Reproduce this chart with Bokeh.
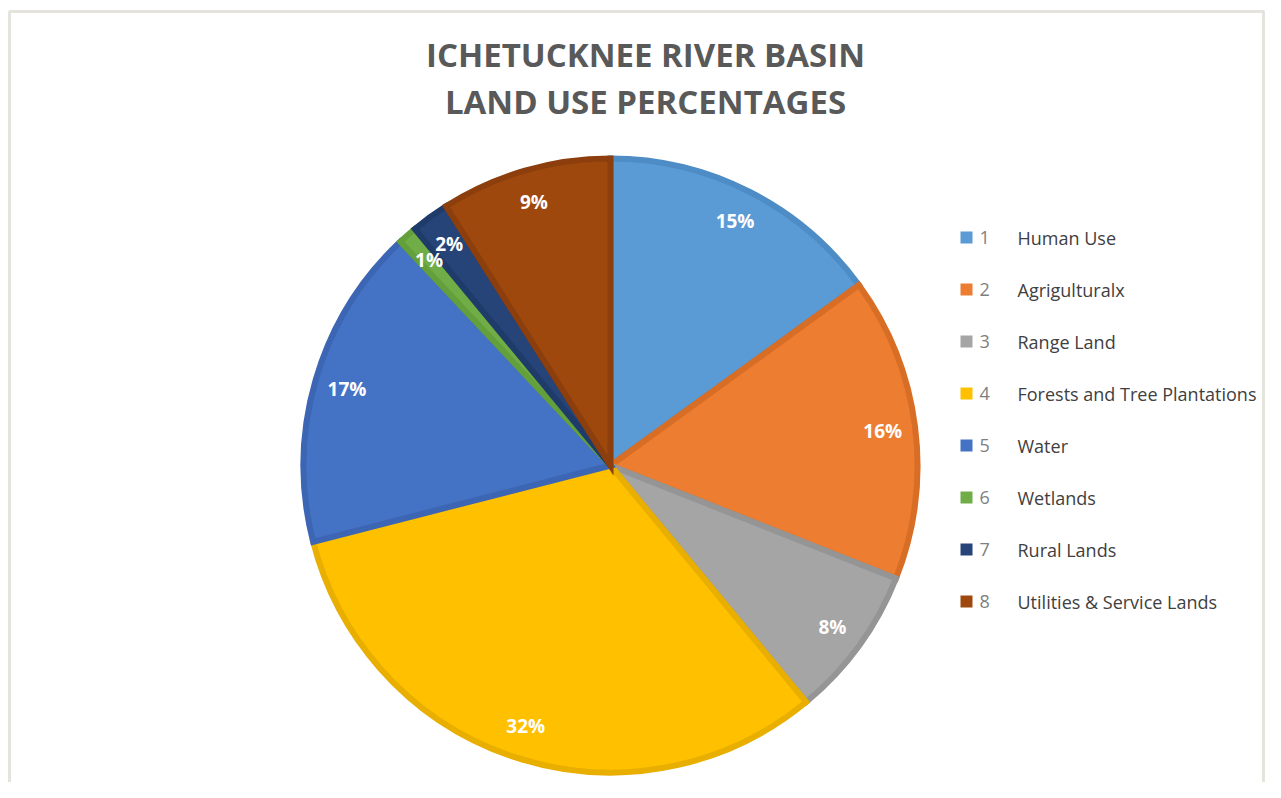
import math
from bokeh.plotting import figure
from bokeh.models import Range1d, ColumnDataSource
from bokeh.core.properties import value
from bokeh.embed import file_html
from bokeh.resources import INLINE

# ---- data ----
title_lines = ["ICHETUCKNEE RIVER BASIN", "LAND USE PERCENTAGES"]
codes = ["1", "2", "3", "4", "5", "6", "7", "8"]
categories = ["Human Use", "Agrigulturalx", "Range Land", "Forests and Tree Plantations",
              "Water", "Wetlands", "Rural Lands", "Utilities & Service Lands"]
percents = [15, 16, 8, 32, 17, 1, 2, 9]
colors = ["#5B9BD5", "#ED7D31", "#A5A5A5", "#FFC000", "#4472C4", "#70AD47", "#264478", "#9E480E"]
borders = ["#4E8CC6", "#D86E26", "#959595", "#E8AE00", "#3C66B3", "#63A03C", "#1F3B6A", "#8C3F0C"]

W, H = 1265, 782
p = figure(width=W, height=H, output_backend="svg", toolbar_location=None,
           x_range=Range1d(0, W), y_range=Range1d(0, H), min_border=0)
p.axis.visible = False
p.grid.visible = False
p.outline_line_color = None
p.background_fill_color = "white"
p.border_fill_color = "white"

# chart frame (left, top, right edges)
p.line(x=[9, 9, W - 2, W - 2], y=[0, H - 11, H - 11, 0], line_color="#E4E4DC", line_width=3)

cx, cy, R = 610, 317, 310
lw = 6
total = sum(percents)
starts, ends, mids = [], [], []
cum = 0.0
for v in percents:
    a0 = math.pi / 2 - 2 * math.pi * cum / total
    cum += v
    a1 = math.pi / 2 - 2 * math.pi * cum / total
    starts.append(a1)
    ends.append(a0)
    mids.append((a0 + a1) / 2)

src = ColumnDataSource(dict(start=starts, end=ends, fill=colors, line=borders))
p.wedge(x=cx, y=cy, radius=R - lw / 2, start_angle="start", end_angle="end",
        fill_color="fill", line_color="line", line_width=lw, line_join="miter", source=src)

lr = 0.885 * R
lab = ColumnDataSource(dict(
    x=[cx + lr * math.cos(m) for m in mids],
    y=[cy + lr * math.sin(m) for m in mids],
    t=[f"{v}%" for v in percents]))
p.text(x="x", y="y", text="t", source=lab, text_color="white", text_font=value("Open Sans"),
       text_font_style="bold", text_font_size="19px", text_align="center", text_baseline="middle")

# title
p.text(x=[645, 645], y=[728, 681], text=title_lines, text_color="#595959",
       text_font=value("Open Sans"), text_font_style="bold", text_font_size="33px",
       text_align="center", text_baseline="middle")

# legend
n = len(categories)
ly = [545 - 52 * i for i in range(n)]
p.rect(x=[966] * n, y=ly, width=12, height=12, fill_color=colors, line_color=None)
p.text(x=[979] * n, y=ly, text=codes, text_color="#7F7F7F", text_font=value("Open Sans"),
       text_font_size="18px", text_baseline="middle")
p.text(x=[1017] * n, y=ly, text=categories, text_color="#404040", text_font=value("Open Sans"),
       text_font_size="18px", text_baseline="middle")

open("out.html", "w").write(file_html(p, INLINE))
